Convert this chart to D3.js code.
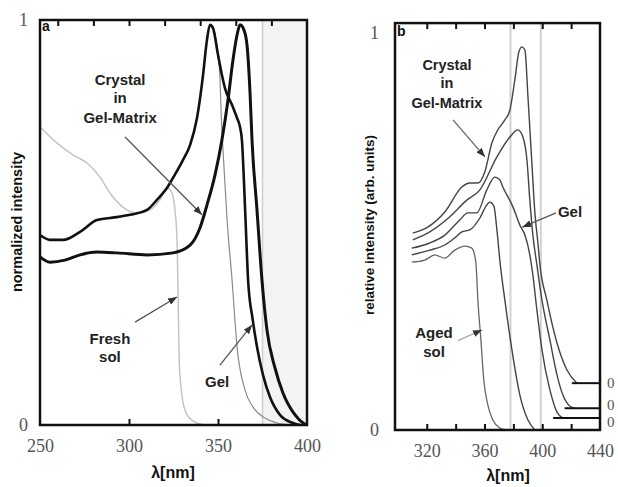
<!DOCTYPE html>
<html>
<head>
<meta charset="utf-8">
<script src="https://cdn.jsdelivr.net/npm/d3@7"></script>
<style>
  body { margin: 0; background: #fff; }
  svg { display: block; }
  text { font-family: "Liberation Sans", Arial, sans-serif; }
  .lbl { font-weight: bold; font-size: 15px; fill: #222; }
  .ttl { font-weight: bold; fill: #111; }
</style>
</head>
<body>
<svg id="chart" width="618" height="487"></svg>
<script>
// ---- panel a : normalized spectra, [wavelength nm, intensity] ----
const freshSolA = [[250,0.736],[259.6,0.696],[268.5,0.667],[276.4,0.647],[283.7,0.612],[289.3,0.573],
  [296.6,0.538],[304.5,0.523],[311.8,0.531],[317.4,0.556],[321.3,0.585],[324.1,0.573],[325.8,0.531],
  [327.0,0.457],[327.6,0.309],[328.2,0.160],[329.4,0.086],[332.0,0.030],[337.1,0.007],[342.7,0]];
const gelA = [[250,0.469],[255.6,0.457],[262.9,0.457],[272.5,0.477],[282.0,0.506],[289.3,0.511],
  [300.6,0.519],[310.1,0.531],[315.7,0.556],[321.3,0.585],[324.7,0.610],[330.3,0.654],[334.3,0.691],
  [338.2,0.758],[341.6,0.864],[343.8,0.951],[345.5,0.988],[347.2,0.980],[350.0,0.914],[352.2,0.864],
  [353.9,0.832],[357.9,0.790],[360.7,0.758],[362.4,0.735],[363.5,0.700],[364.6,0.600],[365.8,0.470],
  [366.9,0.358],[369.5,0.260],[371.9,0.193],[375.3,0.123],[379.2,0.069],[384.8,0.025],[392.1,0.005],[396.1,0]];
const crystalA = [[250,0.415],[255.6,0.402],[264,0.407],[272.5,0.420],[282.0,0.427],[293.3,0.425],
  [310.1,0.420],[324.7,0.425],[334.3,0.444],[339.9,0.487],[343.8,0.543],[348.3,0.617],[352.2,0.704],
  [355.6,0.802],[358.4,0.901],[360.7,0.963],[362.4,0.988],[364.6,0.975],[366.3,0.938],[368.0,0.820],
  [369.1,0.704],[371.9,0.531],[374.7,0.358],[377.5,0.235],[382.0,0.141],[386.5,0.079],[393.3,0.025],
  [397.8,0.005],[400,0]];
const thinA = [[345.5,0.988],[347.2,0.980],[350.0,0.914],[351.1,0.859],[351.7,0.778],[352.8,0.679],
  [355.1,0.506],[357.9,0.358],[360.7,0.193],[365.2,0.086],[369.7,0.044],[376.4,0.017],[383.1,0.005],[390.4,0]];
const shadeA = [375, 400];
const aTickLabels = [250, 300, 350, 400];
const aTopTicks = [260, 280, 300, 320, 340, 360, 380];
const aBottomTicks = [300, 350];

// ---- panel b : relative spectra (offset curves) ----
const crystalB = [[310.3,0.496],[320.7,0.511],[332.5,0.549],[344.3,0.612],[349.8,0.622],[355.4,0.622],
  [360.2,0.650],[365.1,0.723],[369.2,0.756],[374.1,0.781],[377.6,0.806],[381.0,0.882],[383.8,0.952],
  [385.9,0.965],[388.0,0.957],[390.1,0.839],[392.8,0.673],[394.9,0.547],[397.0,0.471],[398.4,0.416],
  [403.2,0.327],[410.2,0.219],[417.1,0.151],[424.0,0.118]];
const midB = [[310.3,0.479],[322.1,0.499],[336.0,0.537],[347.7,0.579],[356.8,0.605],[368.6,0.688],
  [377.6,0.738],[383.1,0.756],[386.6,0.738],[389.4,0.680],[391.4,0.579],[393.5,0.491],[396.3,0.416],
  [399.8,0.327],[405.3,0.227],[410.2,0.139],[414.3,0.088],[419.2,0.060],[422.7,0.055]];
const gelB = [[309.6,0.458],[322.1,0.471],[332.5,0.491],[342.9,0.529],[348.4,0.547],[354.7,0.547],
  [361.6,0.605],[367.2,0.637],[370.6,0.630],[372.7,0.612],[379.7,0.562],[384.5,0.516],[388.0,0.491],
  [391.4,0.441],[393.5,0.390],[396.3,0.302],[399.8,0.202],[405.3,0.101],[410.2,0.045],[414.3,0.030]];
const lowB = [[309.6,0.441],[322.1,0.453],[332.5,0.466],[339.4,0.484],[344.3,0.499],[349.8,0.504],
  [356.8,0.534],[361.6,0.567],[363.7,0.574],[366.5,0.564],[368.6,0.504],[370.6,0.428],[374.1,0.327],
  [379.0,0.202],[384.5,0.088],[390.1,0.025],[394.9,0]];
const agedSolB = [[309.6,0.423],[318.6,0.428],[325.5,0.441],[332.5,0.433],[339.4,0.453],[346.4,0.463],
  [351.2,0.458],[354.0,0.423],[355.4,0.327],[357.5,0.227],[359.5,0.126],[362.3,0.063],[365.8,0.025],
  [370.6,0.005],[374.8,0]];
const bOffsets = [0.118, 0.055, 0.030];
const bOffsetStart = [420.5, 415.5, 407.5];
const bOffsetLabelAt = [0.118, 0.063, 0.020];
const bMarkers = [378, 399];
const bTickLabels = [320, 360, 400, 440];
const bTicks = [320, 340, 360, 380, 400, 420];

const svg = d3.select("#chart");
const numFont = "'Liberation Serif', 'DejaVu Serif', serif";

const defs = svg.append("defs");
defs.append("marker").attr("id", "arr")
  .attr("markerUnits", "userSpaceOnUse")
  .attr("markerWidth", 9).attr("markerHeight", 7)
  .attr("refX", 9).attr("refY", 3.5).attr("orient", "auto")
  .append("path").attr("d", "M0,0 L9,3.5 L0,7 z").attr("fill", "#333");

// scales
const xA = d3.scaleLinear().domain([250, 400]).range([40, 307]);
const yA = d3.scaleLinear().domain([0, 1]).range([425, 20]);
const xB = d3.scaleLinear().domain([298, 440]).range([395, 600]);
const yB = d3.scaleLinear().domain([0, 1]).range([430, 33]);

function curve(x, y, data, col, w) {
  svg.append("path").datum(data)
    .attr("fill", "none").attr("stroke", col).attr("stroke-width", w)
    .attr("stroke-linejoin", "round")
    .attr("d", d3.line().curve(d3.curveMonotoneX).x(d => x(d[0])).y(d => y(d[1])));
}

function arrow(x, y, from, to, col) {
  svg.append("line")
    .attr("x1", x(from[0])).attr("y1", y(from[1]))
    .attr("x2", x(to[0])).attr("y2", y(to[1]))
    .attr("stroke", col).attr("stroke-width", 1.3)
    .attr("marker-end", "url(#arr)");
}

function label(x, y, lam, vals, lines, size) {
  lines.forEach((t, i) => {
    svg.append("text").attr("class", "lbl")
      .attr("x", x(lam)).attr("y", y(vals[i]))
      .attr("text-anchor", "middle").style("font-size", size + "px")
      .text(t);
  });
}

function numStyle(g) {
  g.select(".domain").remove();
  g.selectAll("text").attr("fill", "#555")
    .style("font-family", numFont).style("font-size", "18px");
}
function tickStyle(g) {
  g.select(".domain").remove();
  g.selectAll("line").attr("stroke", "#111").attr("stroke-width", 2);
}

// ================= panel a =================
svg.append("rect")
  .attr("x", xA(shadeA[0])).attr("y", yA(1))
  .attr("width", xA(shadeA[1]) - xA(shadeA[0])).attr("height", yA(0) - yA(1))
  .attr("fill", "#f3f3f3");
svg.append("line")
  .attr("x1", xA(shadeA[0])).attr("x2", xA(shadeA[0]))
  .attr("y1", yA(1)).attr("y2", yA(0))
  .attr("stroke", "#cfcfcf").attr("stroke-width", 1.5);

curve(xA, yA, freshSolA, "#c4c4c4", 1.5);
curve(xA, yA, thinA, "#8a8a8a", 1.2);
curve(xA, yA, gelA, "#111", 2.6);
curve(xA, yA, crystalA, "#111", 3);

svg.append("rect")
  .attr("x", xA(250)).attr("y", yA(1))
  .attr("width", xA(400) - xA(250)).attr("height", yA(0) - yA(1))
  .attr("fill", "none").attr("stroke", "#111").attr("stroke-width", 2.5);

svg.append("g").attr("transform", `translate(0,${yA(1)})`)
  .call(d3.axisTop(xA).tickValues(aTopTicks).tickSize(-6).tickFormat(""))
  .call(tickStyle);
svg.append("g").attr("transform", `translate(0,${yA(0)})`)
  .call(d3.axisBottom(xA).tickValues(aBottomTicks).tickSize(-6).tickFormat(""))
  .call(tickStyle);
svg.append("g").attr("transform", `translate(0,${yA(0)})`)
  .call(d3.axisBottom(xA).tickValues(aTickLabels).tickSize(0).tickPadding(14))
  .call(numStyle);
svg.append("g").attr("transform", `translate(${xA(250)},0)`)
  .call(d3.axisLeft(yA).tickValues([0, 1]).tickFormat(d3.format("d")).tickSize(0).tickPadding(12))
  .call(numStyle);

svg.append("text").attr("class", "ttl").style("font-size", "14px")
  .attr("x", xA(250) + 2).attr("y", yA(1) + 11).text("a");
svg.append("text").attr("class", "ttl").style("font-size", "16px")
  .attr("x", 173).attr("y", 478).attr("text-anchor", "middle").text("λ[nm]");
svg.append("text").attr("class", "ttl").style("font-size", "14.5px")
  .attr("transform", "translate(22,222) rotate(-90)")
  .attr("text-anchor", "middle").text("normalized intensity");

label(xA, yA, 295, [0.840, 0.795, 0.746], ["Crystal", "in", "Gel-Matrix"], 15);
arrow(xA, yA, [297.8, 0.711], [341, 0.519], "#555");
label(xA, yA, 289.3, [0.200, 0.156], ["Fresh", "sol"], 15);
arrow(xA, yA, [303.4, 0.254], [327, 0.316], "#555");
label(xA, yA, 349.5, [0.094], ["Gel"], 15);
arrow(xA, yA, [351.1, 0.148], [369.1, 0.247], "#555");

// ================= panel b =================
bMarkers.forEach(m => {
  svg.append("line")
    .attr("x1", xB(m)).attr("x2", xB(m))
    .attr("y1", yB(1.025)).attr("y2", yB(0))
    .attr("stroke", "#d2d2d2").attr("stroke-width", 2);
});

const offsetCurves = [crystalB, midB, gelB];
offsetCurves.forEach((c, i) => {
  curve(xB, yB, c, "#444", 1.4);
  svg.append("line")
    .attr("x1", xB(bOffsetStart[i])).attr("x2", xB(440))
    .attr("y1", yB(bOffsets[i])).attr("y2", yB(bOffsets[i]))
    .attr("stroke", "#111").attr("stroke-width", 2);
  svg.append("text")
    .attr("x", xB(440) + 7).attr("y", yB(bOffsetLabelAt[i]) + 5)
    .attr("fill", "#555").style("font-family", numFont).style("font-size", "15px")
    .text("0");
});
curve(xB, yB, lowB, "#444", 1.4);
curve(xB, yB, agedSolB, "#666", 1.3);

svg.append("rect")
  .attr("x", xB(298)).attr("y", yB(1.025))
  .attr("width", xB(440) - xB(298)).attr("height", yB(0) - yB(1.025))
  .attr("fill", "none").attr("stroke", "#111").attr("stroke-width", 2.5);

svg.append("g").attr("transform", `translate(0,${yB(1.025)})`)
  .call(d3.axisTop(xB).tickValues(bTicks).tickSize(-6).tickFormat(""))
  .call(tickStyle);
svg.append("g").attr("transform", `translate(0,${yB(0)})`)
  .call(d3.axisBottom(xB).tickValues(bTicks).tickSize(-6).tickFormat(""))
  .call(tickStyle);
svg.append("g").attr("transform", `translate(0,${yB(0)})`)
  .call(d3.axisBottom(xB).tickValues(bTickLabels).tickSize(0).tickPadding(14))
  .call(numStyle);
svg.append("g").attr("transform", `translate(${xB(298)},0)`)
  .call(d3.axisLeft(yB).tickValues([0, 1]).tickFormat(d3.format("d")).tickSize(0).tickPadding(16))
  .call(numStyle);

svg.append("text").attr("class", "ttl").style("font-size", "14px")
  .attr("x", xB(298) + 2).attr("y", yB(1.025) + 13).text("b");
svg.append("text").attr("class", "ttl").style("font-size", "16px")
  .attr("x", 508).attr("y", 481).attr("text-anchor", "middle").text("λ[nm]");
svg.append("text").attr("class", "ttl").style("font-size", "13.5px")
  .attr("transform", "translate(374,225) rotate(-90)")
  .attr("text-anchor", "middle").text("relative intensity (arb. units)");

label(xB, yB, 334, [0.907, 0.861, 0.811], ["Crystal", "in", "Gel-Matrix"], 14.5);
arrow(xB, yB, [338.2, 0.781], [360.3, 0.688], "#666");
label(xB, yB, 419.2, [0.537], ["Gel"], 15);
arrow(xB, yB, [409.5, 0.547], [386.2, 0.511], "#555");
label(xB, yB, 325, [0.232, 0.184], ["Aged", "sol"], 15);
arrow(xB, yB, [341.6, 0.225], [358.3, 0.252], "#aaa");
</script>
</body>
</html>
